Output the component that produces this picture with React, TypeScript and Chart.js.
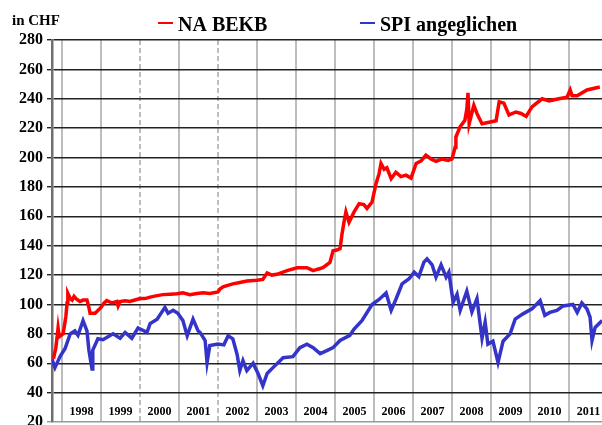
import React, { useEffect, useRef } from "react";
import { Chart, registerables } from "chart.js";

Chart.register(...registerables);

const FONT = '"Liberation Serif", "Times New Roman", serif';

const unitLabel = "in CHF";
const seriesNames = ["NA BEKB", "SPI angeglichen"];
const seriesColors = ["#ff0000", "#3434c8"];
const yearLabels = [1998, 1999, 2000, 2001, 2002, 2003, 2004, 2005, 2006, 2007, 2008, 2009, 2010, 2011];
const dashedYears = [2000, 2002];
const yTicks = [20, 40, 60, 80, 100, 120, 140, 160, 180, 200, 220, 240, 260, 280];

const redYears = [
  1997.78, 1997.84, 1997.88, 1997.9, 1997.93, 1998.03, 1998.1, 1998.13, 1998.15, 1998.21,
  1998.26, 1998.31, 1998.36, 1998.46, 1998.54, 1998.64, 1998.69, 1998.72, 1998.85, 1999.0,
  1999.08, 1999.15, 1999.28, 1999.41, 1999.44, 1999.49, 1999.62, 1999.74, 1999.87, 2000.0,
  2000.13, 2000.26, 2000.44, 2000.59, 2000.77, 2000.95, 2001.1, 2001.28, 2001.46, 2001.62,
  2001.79, 2002.0, 2002.05, 2002.13, 2002.25, 2002.38, 2002.56, 2002.74, 2003.0, 2003.15,
  2003.26, 2003.38, 2003.51, 2003.77, 2004.03, 2004.28, 2004.44, 2004.56, 2004.69, 2004.87,
  2004.95, 2005.05, 2005.13, 2005.18, 2005.23, 2005.28, 2005.36, 2005.49, 2005.62, 2005.74,
  2005.82, 2005.95, 2006.05, 2006.13, 2006.18, 2006.26, 2006.33, 2006.44, 2006.56, 2006.69,
  2006.82, 2006.95, 2007.08, 2007.21, 2007.33, 2007.46, 2007.59, 2007.74, 2007.9, 2008.0,
  2008.08, 2008.1, 2008.21, 2008.33, 2008.38, 2008.41, 2008.44, 2008.56, 2008.64, 2008.77,
  2008.95, 2009.13, 2009.21, 2009.33, 2009.46, 2009.64, 2009.77, 2009.9, 2010.05, 2010.31,
  2010.49, 2010.74, 2010.95, 2011.03, 2011.08, 2011.21, 2011.46, 2011.79,
];
const redValues = [
  63, 70, 79, 84, 78, 80, 92, 101, 107.5, 104,
  103, 105.5, 104, 102, 103, 103, 98, 94, 94, 98,
  101, 102.6, 101, 102, 99, 102, 102.5, 102, 103, 104,
  104, 105, 106, 106.7, 107, 107.3, 108, 106.7, 107.5, 108,
  107.5, 108.5, 110.5, 112, 113, 114, 115, 116, 116.5, 117,
  121.5, 120, 120.5, 123, 125, 125, 123, 124, 125, 128.6,
  136.6, 137, 138, 148, 156, 163, 156, 163, 168.6, 168,
  165.4, 169.7, 182, 189, 196, 192, 193, 185.6, 190, 187,
  188, 186, 196, 197.7, 201.6, 199, 197.4, 199, 198, 199,
  207, 214, 221, 225.4, 233, 244, 223, 235.6, 230, 223,
  224, 225, 238, 237, 229, 231, 230, 228, 234.5, 240,
  238.6, 240, 241, 246, 242, 242, 246, 248,
];

const blueYears = [
  1997.74, 1997.82, 1997.95, 1998.08, 1998.21, 1998.33, 1998.41, 1998.54, 1998.64, 1998.69,
  1998.77, 1998.79, 1998.92, 1999.05, 1999.31, 1999.49, 1999.62, 1999.79, 1999.95, 2000.18,
  2000.26, 2000.44, 2000.64, 2000.72, 2000.85, 2000.97, 2001.1, 2001.21, 2001.36, 2001.49,
  2001.54, 2001.67, 2001.72, 2001.79, 2002.0, 2002.15, 2002.26, 2002.38, 2002.49, 2002.56,
  2002.64, 2002.74, 2002.9, 2003.03, 2003.15, 2003.26, 2003.41, 2003.67, 2003.92, 2004.1,
  2004.28, 2004.44, 2004.62, 2004.79, 2004.95, 2005.13, 2005.38, 2005.49, 2005.69, 2005.95,
  2006.13, 2006.31, 2006.44, 2006.56, 2006.72, 2006.9, 2007.03, 2007.15, 2007.28, 2007.36,
  2007.49, 2007.59, 2007.72, 2007.85, 2007.92, 2008.03, 2008.13, 2008.21, 2008.38, 2008.51,
  2008.64, 2008.77, 2008.85, 2008.92, 2009.05, 2009.18, 2009.31, 2009.49, 2009.62, 2009.82,
  2010.05, 2010.26, 2010.38, 2010.51, 2010.69, 2010.85, 2011.1, 2011.21, 2011.33, 2011.46,
  2011.54, 2011.59, 2011.67, 2011.85,
];
const blueValues = [
  63, 57, 64.5, 70, 80, 82, 79, 89, 82, 69,
  56, 69, 76.7, 76, 80, 77, 81, 77, 84, 81,
  87, 90, 98, 94, 96, 94, 89, 78.7, 90, 82,
  81, 75.5, 60.5, 72, 73, 72.5, 78.7, 76.6, 66, 55,
  61.8, 55, 60, 52.8, 44.7, 53, 57, 63.8, 64.5, 70.6,
  73, 70.6, 66.5, 68.6, 70.6, 75.5, 79, 83.3, 89, 100,
  103.4, 107.8, 96, 103.4, 114, 117.5, 122, 119, 128.8, 131,
  127, 118.6, 127, 118.6, 122, 101.5, 107, 96, 109, 95,
  104, 77, 88, 73, 75, 60.5, 75, 80, 90, 93.6,
  97, 102.6, 92.6, 94.6, 96, 99, 100, 94.6, 101, 97,
  91.4, 75.5, 84.4, 89,
];

const X_MIN = 1997.744;
const X_MAX = 2011.846;

const toPoints = (xs: number[], ys: number[]) => xs.map((x, i) => ({ x, y: ys[i] }));

const textPlugin = {
  id: "textPlugin",
  afterDraw(chart: any) {
    const { ctx } = chart;
    const xs = chart.scales.x;
    ctx.save();
    ctx.fillStyle = "#000";
    ctx.textBaseline = "alphabetic";
    ctx.textAlign = "left";
    ctx.font = `bold 15px ${FONT}`;
    ctx.fillText(unitLabel, 12, 25);

    const legendX = [158, 360];
    ctx.font = `bold 20px ${FONT}`;
    seriesNames.forEach((name, i) => {
      ctx.strokeStyle = seriesColors[i];
      ctx.lineWidth = 2;
      ctx.beginPath();
      ctx.moveTo(legendX[i], 23);
      ctx.lineTo(legendX[i] + 15, 23);
      ctx.stroke();
      ctx.fillText(name, legendX[i] + 20, 31);
    });

    ctx.font = `bold 12px ${FONT}`;
    ctx.textAlign = "center";
    yearLabels.forEach((yr) => {
      ctx.fillText(String(yr), xs.getPixelForValue(yr + 0.5), 415);
    });
    ctx.restore();
  },
};

export default function App() {
  const ref = useRef<HTMLCanvasElement | null>(null);
  useEffect(() => {
    document.body.style.margin = "0";
    const canvas = ref.current!;
    const chart = new Chart(canvas, {
      type: "line",
      data: {
        datasets: [
          {
            label: seriesNames[0],
            data: toPoints(redYears, redValues),
            borderColor: seriesColors[0],
            backgroundColor: seriesColors[0],
            borderWidth: 3.5,
            pointRadius: 0,
            tension: 0,
          },
          {
            label: seriesNames[1],
            data: toPoints(blueYears, blueValues),
            borderColor: seriesColors[1],
            backgroundColor: seriesColors[1],
            borderWidth: 3.5,
            pointRadius: 0,
            tension: 0,
          },
        ],
      },
      options: {
        animation: false,
        responsive: false,
        devicePixelRatio: 1,
        layout: { padding: { top: 40, bottom: 3, left: 0, right: 0 } },
        plugins: { legend: { display: false }, tooltip: { enabled: false } },
        scales: {
          x: {
            type: "linear",
            min: X_MIN,
            max: X_MAX,
            afterBuildTicks: (scale: any) => {
              scale.ticks = yearLabels.map((v) => ({ value: v }));
            },
            ticks: { display: false },
            grid: {
              color: "#bdbdbd",
              lineWidth: 2,
              drawTicks: false,
            },
            border: {
              display: false,
              dash: (c: any) => (c.tick && dashedYears.includes(c.tick.value) ? [5, 3] : []),
            },
          },
          y: {
            min: 20,
            max: 280,
            afterBuildTicks: (scale: any) => {
              scale.ticks = yTicks.map((v) => ({ value: v }));
            },
            afterFit: (scale: any) => {
              scale.width = 52;
              scale.paddingTop = 0;
              scale.paddingBottom = 0;
            },
            ticks: {
              color: "#000",
              font: { family: FONT, size: 16, weight: "bold" },
              padding: 4,
            },
            grid: {
              color: (c: any) => (c.tick && c.tick.value === 20 ? "#999" : "#222"),
              lineWidth: 1.4,
              tickLength: 5,
            },
            border: { color: "#707070", width: 2.5 },
          },
        },
      },
      plugins: [textPlugin],
    } as any);
    return () => chart.destroy();
  }, []);
  return (
    <div style={{ position: "absolute", left: 0, top: 0, width: 602, height: 425, background: "#fff" }}>
      <canvas ref={ref} width={602} height={425} />
    </div>
  );
}
